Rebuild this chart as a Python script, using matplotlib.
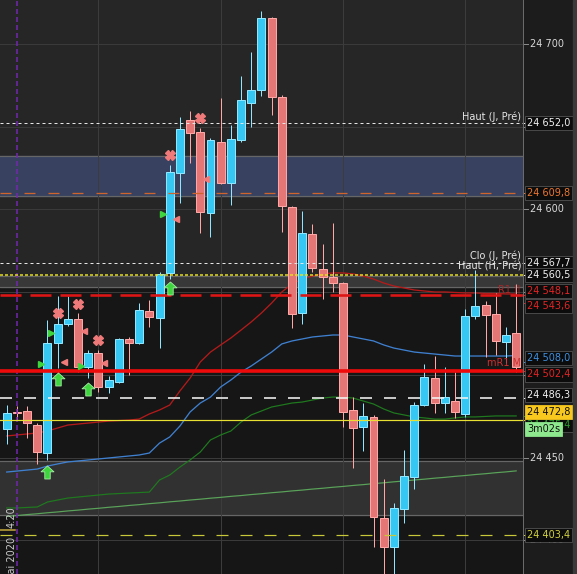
import numpy as np
import matplotlib.pyplot as plt
from matplotlib.patches import Rectangle
from matplotlib.path import Path
from matplotlib.lines import Line2D
from matplotlib.transforms import blended_transform_factory

plt.rcParams['lines.scale_dashes'] = False
plt.rcParams['font.family'] = ['DejaVu Sans']

# candles (5 min)
opens = [24467.3, 24477.5, 24478.2, 24469.7, 24452.8, 24519.3, 24530.7, 24533.8, 24504.8, 24513.2,
         24492.7, 24495.7, 24521.7, 24519.3, 24538.6, 24534.4, 24561.6, 24622.0, 24654.0, 24646.7,
         24597.8, 24640.7, 24615.9, 24641.9, 24664.3, 24672.1, 24715.6, 24667.9, 24601.4, 24537.4,
         24585.1, 24564.0, 24559.1, 24555.5, 24478.8, 24468.5, 24474.6, 24413.5, 24396.0, 24419.0,
         24438.3, 24481.8, 24498.1, 24483.0, 24484.2, 24476.4, 24535.6, 24542.2, 24536.8, 24520.0,
         24525.3]
highs = [24482.0, 24481.0, 24481.2, 24471.0, 24533.2, 24547.7, 24547.7, 24537.4, 24515.0, 24515.0,
         24499.3, 24522.5, 24522.9, 24543.4, 24545.2, 24562.2, 24626.8, 24655.8, 24659.4, 24649.2,
         24643.1, 24667.3, 24651.0, 24680.6, 24695.1, 24719.9, 24716.2, 24669.1, 24602.0, 24599.0,
         24591.2, 24579.1, 24591.8, 24556.0, 24486.6, 24483.0, 24475.8, 24437.1, 24422.6, 24454.6,
         24483.6, 24506.6, 24511.4, 24504.8, 24501.7, 24540.0, 24563.4, 24544.6, 24549.5, 24528.9,
         24555.0]
lows = [24458.2, 24473.0, 24461.9, 24446.2, 24448.6, 24504.2, 24529.5, 24501.7, 24498.1, 24489.7,
        24489.1, 24495.0, 24499.9, 24518.8, 24528.9, 24516.2, 24558.0, 24603.8, 24628.0, 24585.7,
        24583.3, 24615.5, 24602.6, 24640.7, 24649.8, 24668.5, 24657.0, 24586.3, 24528.3, 24530.7,
        24562.0, 24545.8, 24550.1, 24468.5, 24443.7, 24454.0, 24396.0, 24378.0, 24378.0, 24410.5,
        24431.1, 24481.0, 24477.0, 24477.0, 24474.0, 24474.6, 24533.8, 24510.8, 24512.0, 24507.2,
        24502.0]
closes = [24477.0, 24476.8, 24470.9, 24453.4, 24519.3, 24530.7, 24533.8, 24504.8, 24513.2, 24492.7,
          24496.9, 24521.7, 24519.3, 24539.2, 24535.0, 24561.0, 24622.6, 24648.6, 24646.1, 24598.4,
          24641.9, 24615.9, 24642.5, 24666.1, 24672.1, 24715.6, 24667.9, 24602.0, 24536.8, 24585.7,
          24564.6, 24559.1, 24555.5, 24477.6, 24467.9, 24475.2, 24414.1, 24396.0, 24419.6, 24438.9,
          24481.8, 24498.7, 24483.0, 24486.6, 24477.6, 24535.6, 24541.6, 24536.2, 24520.5, 24524.1,
          24504.8]

# moving averages
ma_blue = [24441.3, 24441.9, 24442.5, 24443.1, 24444.9, 24446.2, 24447.4, 24448.0, 24448.6, 24449.2,
           24449.8, 24450.4, 24451.0, 24451.6, 24452.8, 24458.8, 24462.5, 24469.1, 24477.6, 24483.0,
           24486.6, 24492.7, 24496.9, 24501.7, 24505.4, 24509.6, 24513.8, 24518.7, 24520.5, 24521.7,
           24522.9, 24523.5, 24524.1, 24524.1, 24522.9, 24521.7, 24520.5, 24518.1, 24516.2, 24515.0,
           24513.8, 24513.2, 24512.6, 24512.0, 24511.4, 24511.4, 24511.4, 24511.4, 24511.4, 24511.4,
           24511.7]
ma_red = [24463.1, 24463.7, 24464.3, 24464.9, 24466.1, 24467.9, 24469.7, 24470.3, 24470.9, 24471.5,
          24472.1, 24472.4, 24472.7, 24473.3, 24476.4, 24478.8, 24481.8, 24490.3, 24498.1, 24507.8,
          24513.8, 24518.1, 24522.3, 24527.1, 24532.0, 24537.4, 24543.4, 24550.1, 24554.9, 24557.9,
          24559.7, 24561.0, 24561.6, 24561.6, 24561.0, 24559.7, 24557.9, 24555.5, 24553.7, 24552.5,
          24551.3, 24550.7, 24550.1, 24550.1, 24549.8, 24549.5, 24549.5, 24549.2, 24549.2, 24548.9,
          24548.9]
ma_green = [24419.6, 24419.6, 24419.9, 24420.2, 24423.2, 24424.4, 24425.6, 24426.2, 24426.8, 24427.4,
            24428.0, 24428.3, 24428.6, 24428.9, 24429.2, 24436.5, 24439.5, 24444.3, 24448.6, 24453.4,
            24460.7, 24463.7, 24466.1, 24471.5, 24475.8, 24478.2, 24480.6, 24481.8, 24483.0, 24483.6,
            24484.8, 24486.0, 24486.6, 24486.6, 24486.0, 24484.2, 24482.4, 24479.4, 24477.0, 24475.8,
            24474.6, 24474.0, 24473.3, 24473.3, 24474.0, 24474.6, 24474.6, 24474.9, 24475.2, 24475.2,
            24475.2]
ma_long = [24414.5, 24415.0, 24415.6, 24416.1, 24416.7, 24417.2, 24417.8, 24418.3, 24418.9, 24419.4,
           24420.0, 24420.5, 24421.1, 24421.6, 24422.2, 24422.7, 24423.3, 24423.8, 24424.4, 24424.9,
           24425.5, 24426.0, 24426.6, 24427.1, 24427.7, 24428.2, 24428.8, 24429.3, 24429.9, 24430.4,
           24431.0, 24431.5, 24432.1, 24432.6, 24433.2, 24433.7, 24434.3, 24434.8, 24435.4, 24435.9,
           24436.5, 24437.0, 24437.6, 24438.1, 24438.7, 24439.2, 24439.8, 24440.3, 24440.9, 24441.4,
           24442.0]

# signals
sell_idx = [5, 7, 9, 16, 19]
sell_px = [24537.4, 24542.8, 24521.1, 24632.8, 24655.2]
buy_idx = [4, 5, 8, 16]
buy_px = [24441.5, 24497.5, 24491.5, 24552.5]
tri_up_idx = [4, 5, 8, 16]
tri_up_px = [24506.4, 24525.5, 24505.4, 24597.0]
tri_dn_idx = [5, 7, 9, 16, 19]
tri_dn_px = [24508.0, 24526.5, 24507.2, 24594.0, 24618.2]

# levels
haut_j = 24652.0
pivot = 24609.8
clo_j = 24567.7
haut_h = 24560.5
r1 = 24548.1
ma_red_last = 24543.6
ma_blue_last = 24508.0
mr1 = 24502.4
level_w = 24486.3
last_px = 24472.8
low_lvl = 24403.4
blue_zone = (24608.1, 24632.2)
grey_zone = (24553.0, 24560.0)
low_zone = (24415.3, 24448.0)
price_ticks = [24400, 24450, 24500, 24550, 24600, 24650, 24700]
shown_ticks = [24400, 24450, 24600, 24700]   # the others sit under the price boxes

W, H = 577, 574
PX = 0.72                      # points per pixel
YMIN, YMAX = 24379.7, 24726.5
UY = (YMAX - YMIN) / H         # price per pixel

fig = plt.figure(figsize=(W / 100, H / 100), dpi=100, facecolor='#1c1c1c')
ax = fig.add_axes([0, 0, 523 / W, 1])
ax.set_facecolor('#161616')
ax.set_xlim(-0.657, 50.67)
ax.set_ylim(YMIN, YMAX)
ax.set_xticks([])
ax.set_yticks([])
for s in ax.spines.values():
    s.set_visible(False)

# backgrounds / zones
ax.axhspan(grey_zone[1], YMAX, color='#262626', zorder=0)
ax.axhspan(*grey_zone, color='#383838', zorder=0.2)
ax.axhspan(*blue_zone, color='#384260', zorder=0.2)
ax.axhspan(*low_zone, color='#313131', zorder=0.2)
for z in (grey_zone, blue_zone, low_zone):
    for v in z:
        ax.axhline(v, color='#666666', lw=1.2 * PX, zorder=0.3)

# grid
for p in price_ticks:
    ax.axhline(p, color='#3a3a3a', lw=PX, zorder=0.5)
for i in [9, 21, 33, 45]:
    ax.axvline(i, color='#3c3c3c', lw=PX, zorder=0.5)

# moving averages
x = np.arange(len(opens))
ax.plot(x, ma_long, color='#5aa35a', lw=1.2 * PX, zorder=2)
ax.plot(x, ma_green, color='#1f7a1f', lw=1.2 * PX, zorder=2)
ax.plot(x, ma_blue, color='#3f80d0', lw=1.3 * PX, zorder=2)
ax.plot(x, ma_red, color='#b41a1a', lw=1.3 * PX, zorder=2)

# candles
for i in x:
    o, h, l, c = opens[i], highs[i], lows[i], closes[i]
    up = c >= o
    fc = '#36c8f2' if up else '#e57676'
    ec = '#8ee6ff' if up else '#ffa6a6'
    ax.vlines(i, l, h, color=ec, lw=PX, zorder=3)
    ax.add_patch(Rectangle((i - 0.39, min(o, c)), 0.78, max(abs(c - o), UY),
                           fc=fc, ec=ec, lw=PX, zorder=3.1))

# level lines
ax.axvline(1, color='#7426b0', lw=1.5 * PX, dashes=(5 * PX, 3 * PX), zorder=4)
ax.axhline(haut_j, color='#e6e6e6', lw=PX, dashes=(3 * PX, 3 * PX), zorder=4)
ax.axhline(pivot, color='#d0642c', lw=1.3 * PX, dashes=(11 * PX, 13 * PX), zorder=4)
ax.axhline(clo_j, color='#e6e6e6', lw=PX, dashes=(3 * PX, 3 * PX), zorder=4)
ax.axhline(haut_h, color='#e8e020', lw=1.5 * PX, dashes=(3 * PX, 2 * PX), zorder=4)
ax.axhline(r1, color='#dd1515', lw=2.6 * PX, dashes=(21 * PX, 9 * PX), zorder=4)
ax.axhline(mr1, color='#ee0a0a', lw=3.6 * PX, zorder=4)
ax.axhline(level_w, color='#f2f2f2', lw=1.6 * PX, dashes=(12 * PX, 12 * PX), zorder=4)
ax.axhline(last_px, color='#e8e032', lw=1.2 * PX, zorder=4)
ax.axhline(low_lvl, color='#c8c83a', lw=1.2 * PX, dashes=(12 * PX, 12 * PX), zorder=4)

# signals
arrow = Path([(0, 1), (-1, 0.1), (-0.42, 0.1), (-0.42, -1), (0.42, -1), (0.42, 0.1), (1, 0.1), (0, 1)],
             [Path.MOVETO] + [Path.LINETO] * 6 + [Path.CLOSEPOLY])
ax.plot(buy_idx, buy_px, ls='none', marker=arrow, ms=13 * PX, mfc='#3ed53e', mec='#a8f0a8',
        mew=0.8 * PX, zorder=5)
ax.plot(sell_idx, sell_px, ls='none', marker='X', ms=10 * PX, mfc='#f07a7a', mec='#f07a7a', zorder=5)
ax.plot(np.array(tri_up_idx) - 0.66, tri_up_px, ls='none', marker='>', ms=6 * PX,
        mfc='#3ed53e', mec='#3ed53e', zorder=5)
ax.plot(np.array(tri_dn_idx) + 0.58, tri_dn_px, ls='none', marker='<', ms=6 * PX,
        mfc='#f07a7a', mec='#f07a7a', zorder=5)

# captions inside the chart
tx = 521 / 523
blend = blended_transform_factory(ax.transAxes, ax.transData)
ax.text(tx, haut_j + 7 * UY, 'Haut (J, Pré)', transform=blend, ha='right', va='center',
        fontsize=7, color='#e6e6e6', zorder=6)
ax.text(tx, clo_j + 7.5 * UY, 'Clo (J, Pré)', transform=blend, ha='right', va='center',
        fontsize=7, color='#e6e6e6', zorder=6)
ax.text(tx, haut_h + 8 * UY, 'Haut (H, Pré)', transform=blend, ha='right', va='center',
        fontsize=7, color='#e6e6e6', zorder=6)
ax.text(tx, r1 + 6 * UY, 'R1 ||', transform=blend, ha='right', va='center',
        fontsize=7, color='#a82828', zorder=6)
ax.text(tx, mr1 + 8 * UY, 'mR1 M', transform=blend, ha='right', va='center',
        fontsize=7, color='#cc3030', zorder=6)

# price axis
fig.add_artist(Line2D([523 / W] * 2, [0, 1], color='#6a6a6a', lw=PX))
fig.add_artist(Rectangle((573 / W, 0), 4 / W, 1, color='#3a3a3a', transform=fig.transFigure))
for p in price_ticks:
    ax.plot([1.0, 1.0 + 5 / 523], [p, p], color='#8a8a8a', lw=PX, transform=blend, clip_on=False)
for p in shown_ticks:
    ax.text(1.0 + 7 / 523, p, f'{p:,}'.replace(',', ' '), transform=blend, ha='left',
            va='center', fontsize=7, color='#d8d8d8', clip_on=False, zorder=6)


def price_box(val, fg, bg='#0c0c0c', ec='#555555', dy=0, text=None):
    if text is None:
        text = f'{val:,.1f}'.replace(',', ' ').replace('.', ',')
    ax.plot([1.0, 1.0 + 4 / 523], [val, val], color=fg if bg == '#0c0c0c' else bg, lw=PX,
            transform=blend, clip_on=False, zorder=7)
    ax.text(1.0 + 4 / 523, val - dy * UY, text, transform=blend, ha='left', va='center',
            fontsize=7, color=fg, clip_on=False, zorder=8,
            bbox=dict(boxstyle='square,pad=0.22', fc=bg, ec=ec, lw=0.8 * PX))


price_box(haut_j, '#f0f0f0')
price_box(pivot, '#ec7630')
price_box(clo_j, '#f0f0f0')
price_box(haut_h, '#f0f0f0')
price_box(r1, '#e42424', dy=-4.5)
price_box(ma_red_last, '#e42424', dy=3)
price_box(ma_blue_last, '#3d8fe0', dy=-4)
price_box(mr1, '#e42424', dy=3.5)
price_box(level_w, '#f0f0f0', dy=-2.5)
price_box(24475.4, '#2a9a2a', dy=9)
price_box(last_px, '#111111', bg='#f8c81e', ec='#f8c81e', dy=-8)
ax.text(1.0 + 4 / 523, last_px - 9 * UY, '3m02s', transform=blend, ha='left', va='center',
        fontsize=7, color='#111111', clip_on=False, zorder=9,
        bbox=dict(boxstyle='square,pad=0.22', fc='#8ee88e', ec='#8ee88e', lw=0.8 * PX))
price_box(low_lvl, '#d2d23c')

# date stamp at the bottom-left
fig.add_artist(Line2D([0, 15 / W], [1 - 530 / H] * 2, color='#c8aa3c', lw=1.5 * PX))
fig.text(12 / W, 1 - 517 / H, '4:20', rotation=90, ha='center', va='center', fontsize=7,
         color='#cccccc')
fig.text(12 / W, 1 - 537 / H, 'mai 2020', rotation=90, ha='center', va='top', fontsize=7,
         color='#cccccc')

fig.savefig('out.png', dpi=100, facecolor=fig.get_facecolor())
